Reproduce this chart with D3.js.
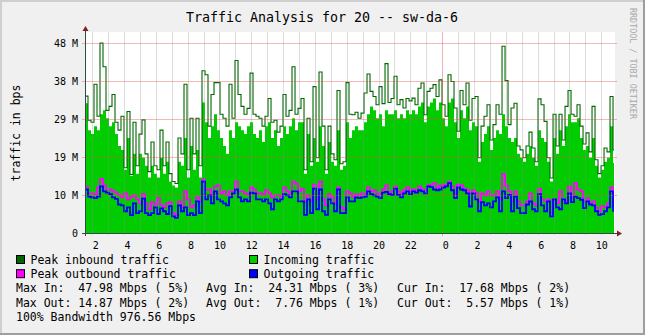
<!DOCTYPE html>
<html>
<head>
<meta charset="utf-8">
<script src="https://cdn.jsdelivr.net/npm/d3@7"></script>
<style>
  body { margin: 0; background: #f0f0f0; }
  svg text { font-family: "DejaVu Sans Mono", monospace; white-space: pre; }
</style>
</head>
<body>
<svg id="chart" width="645" height="335"></svg>
<script>
// Traffic samples in Mbit/s, one value per ~11 minute step
const peakIn = [
  34.6, 28.5, 28, 37.6, 29.5, 47.98, 42, 31, 32, 35,
  28, 26, 29.5, 16.5, 30.7, 14.8, 28, 17, 25, 28.6,
  20, 15.5, 23, 17, 16, 26, 17, 23, 15, 13,
  12.5, 24, 20, 37.6, 16, 29, 20, 29, 17, 41,
  40, 27, 35, 38,
  38, 30, 29, 27, 37.6, 29,
  43.6, 35, 32, 30, 31.5, 40.4, 30, 29.5, 29, 27,
  29.5, 34, 28, 28.5, 25.5, 27, 35, 29.5, 31, 42,
  30, 31.5, 34, 16, 29, 18, 37, 19, 40.7, 27,
  16, 27, 20, 18.5, 36, 17.5, 18, 38, 30,
  29.9, 30.5, 29, 30.3, 35.4, 40.2, 35.8, 34.5, 32.4, 37, 32.7,
  42.8, 33, 34, 39.6, 32.4, 33.7, 31.6, 34, 33.4, 34.1,
  32.4, 36.6, 37.9, 29.9, 35.8, 36.6, 37.5, 34.5, 38.7, 32.4,
  29.5, 40, 38.3, 31.6, 25.7, 36, 32.4, 37.9, 28.5, 34,
  34.5, 19, 27, 29.5,
  32.4, 23.5, 27.4, 32.4, 30, 47.2, 38.5, 27.4, 31.6, 32.8,
  22, 21, 19, 22, 25.5, 21.5, 18, 33.9, 32.4, 28.2,
  19, 13.9, 30, 22, 30, 23.5, 32, 36, 30, 29.5,
  32.4, 27, 22.5, 25.3, 20.5, 32, 18.5, 15, 17, 21.5,
  20.5, 34.5, 21
];
const avgIn = [
  32.8, 26, 25, 27, 26, 30, 31, 29, 27, 28,
  25, 22, 21, 16, 24, 14.5, 20, 15, 20, 19,
  17, 14, 17, 15, 14, 19, 15, 18, 13, 12,
  11.5, 18, 17, 24, 14, 22, 16, 21, 14, 33,
  28, 24, 27, 30,
  26, 24, 22, 20, 26, 24,
  28, 27, 26, 25, 27, 28, 25, 24, 26, 23,
  27, 28, 24, 26, 22, 24, 27, 25, 27, 29,
  26, 28, 28, 15, 25, 17, 24, 18, 27, 22,
  15, 23, 18, 17, 26, 16, 17, 28, 24,
  26, 27, 26, 26, 28, 30, 32, 31, 29, 30, 27,
  31, 30, 30, 31, 29, 30, 29, 31, 30, 31,
  30, 32, 33, 28, 32, 33, 34, 31, 33, 29,
  27, 33, 34, 28, 24, 31, 29, 32, 26, 28,
  27, 18, 23, 25,
  27, 21, 24, 26, 25, 30, 27, 24, 23, 24,
  20, 19, 18, 20, 22, 19, 17, 26, 24, 23,
  18, 13, 24, 20, 26, 22, 27, 30, 28, 28,
  29, 24, 21, 22, 19, 24, 17, 14, 16, 18,
  19, 27, 17.68
];
const peakOut = [
  11.8, 10, 10, 9.8, 11.5, 13.7, 12, 11, 11, 10.5,
  10.2, 9.5, 9.0, 10.0, 8.5, 9.2, 9.5, 8.5, 7.5, 9.8,
  7.5, 6.0, 7.8, 7.2, 8.8, 7.0, 6.5, 7.5, 7.8, 5.0,
  4.5, 8.0, 6.5, 10.5, 8.5, 6.5, 7.0, 9.0, 8.0, 13.5,
  11, 11, 9.5, 11.8,
  12, 10, 10.5, 9.5, 10.5, 10.5,
  13.0, 10.5, 10.5, 10.0, 9.8, 11.5, 11.0, 10.0, 10.0, 9.8,
  10.8, 10.0, 9.0, 9.5, 9.5, 9.2, 11.5, 10.5, 10.0, 13.0,
  12.5, 10.5, 11.2, 8.0, 9.5, 8.0, 12.2, 8.5, 13.0, 8.5,
  7.0, 9.8, 9.0, 7.5, 11.5, 6.5, 6.0, 10.5, 10,
  9.0, 9.8, 9.5, 10.0, 9.8, 11.5, 10.5, 10.8, 10.0, 9.8, 11.0,
  12.0, 10.2, 10.5, 11.8, 10.5, 10.0, 10.8, 11.5, 10.5, 11.0,
  10.5, 11.8, 11.0, 10.8, 12.0, 12.2, 12.6, 11.5, 12.0, 12.0,
  12.2, 13.0, 11.8, 10.0, 12.2, 12.0, 11.2, 10.8, 10.2, 10.8,
  10.2, 8.0, 10.0, 9.5,
  10.5, 9.5, 9.5, 10.5, 8.5, 14.87, 12.0, 10.5, 8.0, 10.5,
  8.0, 7.0, 7.0, 8.0, 10.0, 7.5, 7.0, 11.2, 8.5, 8.0,
  8.5, 5.0, 8.5, 7.5, 10.5, 8.5, 8.0, 11.8, 9.0, 12.6,
  11.0, 10.5, 8.0, 8.8, 7.5, 8.0, 6.5, 5.5, 6.8, 6.5,
  7.5, 11.5, 7.0
];
const avgOut = [
  11.0, 9.2, 9.0, 8.8, 9.2, 11.8, 10.5, 10.2, 9.8, 9.0,
  8.6, 7.2, 7.0, 5.5, 6.5, 4.5, 7.5, 5.0, 5.5, 8.7,
  5.0, 4.5, 5.0, 6.5, 4.8, 6.2, 5.5, 4.8, 6.8, 4.2,
  3.8, 7.0, 5.5, 6.5, 4.5, 5.0, 4.5, 8.0, 5.0, 13.0,
  8.5, 9.5, 7.5, 10.5,
  8.5, 8.0, 7.5, 7.0, 9.0, 10.0,
  11.0, 9.0, 8.0, 8.5, 8.0, 10.2, 10.0, 8.5, 8.5, 8.0,
  8.5, 7.5, 6.0, 8.5, 8.0, 8.5, 9.8, 9.5, 9.0, 10.5,
  10.5, 8.0, 8.0, 4.6, 8.5, 5.0, 11.2, 6.0, 11.0, 5.5,
  4.6, 8.5, 7.5, 5.5, 11.0, 5.0, 5.0, 9.0, 8.0,
  8.0, 9.0, 8.8, 9.0, 9.2, 10.5, 9.8, 9.5, 9.2, 8.8, 10.2,
  10.4, 9.8, 9.6, 11.2, 9.6, 9.0, 10.0, 10.5, 9.8, 10.5,
  10.2, 10.8, 10.5, 10.0, 11.8, 11.6, 11.0, 10.8, 11.0, 11.5,
  11.8, 12.6, 10.8, 8.8, 11.5, 11.0, 10.8, 10.0, 6.7, 10.0,
  8.5, 5.5, 7.8, 7.0,
  7.5, 6.5, 8.0, 9.0, 5.5, 10.5, 8.8, 9.6, 5.5, 9.2,
  6.3, 5.0, 5.0, 7.2, 8.0, 6.0, 5.5, 9.8, 7.0, 5.5,
  8.0, 4.2, 8.5, 6.5, 6.0, 8.5, 7.5, 10.0, 7.8, 9.2,
  8.8, 8.4, 6.3, 8.0, 7.2, 7.0, 5.5, 4.6, 4.8, 5.5,
  6.5, 10.5, 5.57
];

// Time axis: hours counted from midnight of the first day
const startHour = 1.55;
const endHour = 34.86;
const stepHours = 0.18856;
const hourGrid = d3.range(2, 35, 1);
const dayGrid = [24];
const xLabelHours = d3.range(2, 35, 2);

// Value axis (Mbit/s)
const yMax = 50.8;
const yTicks = [0, 9.6, 19.2, 28.8, 38.4, 48];
const yTickLabels = ["0", "10 M", "19 M", "29 M", "38 M", "48 M"];

const titleText = "Traffic Analysis for 20 -- sw-da-6";
const yAxisTitle = "traffic in bps";
const watermark = "RRDTOOL / TOBI OETIKER";

const legendItems = [
  { label: "Peak inbound traffic", color: "#006600", col: 0, row: 0 },
  { label: "Incoming traffic", color: "#00CC00", col: 1, row: 0 },
  { label: "Peak outbound traffic", color: "#FF00FF", col: 0, row: 1 },
  { label: "Outgoing traffic", color: "#0000FF", col: 1, row: 1 }
];
const statRows = [
  ["Max In:  47.98 Mbps ( 5%)", "Avg In:  24.31 Mbps ( 3%)", "Cur In:  17.68 Mbps ( 2%)"],
  ["Max Out: 14.87 Mbps ( 2%)", "Avg Out:  7.76 Mbps ( 1%)", "Cur Out:  5.57 Mbps ( 1%)"]
];
const bandwidthLine = "100% Bandwidth 976.56 Mbps";

// ---- layout ----
const W = 645, H = 335;
const plot = { left: 85, right: 615, top: 32, bottom: 233 };

const svg = d3.select("#chart");

// background with bevelled frame
svg.append("rect").attr("width", W).attr("height", H).attr("fill", "#f0f0f0");
svg.append("rect").attr("x", 0).attr("y", 0).attr("width", W).attr("height", 2).attr("fill", "#cfcfcf");
svg.append("rect").attr("x", 0).attr("y", 0).attr("width", 2).attr("height", H).attr("fill", "#cfcfcf");
svg.append("rect").attr("x", 0).attr("y", H - 2).attr("width", W).attr("height", 2).attr("fill", "#9e9e9e");
svg.append("rect").attr("x", W - 2).attr("y", 0).attr("width", 2).attr("height", H).attr("fill", "#9e9e9e");

const x = d3.scaleLinear().domain([startHour, endHour]).range([plot.left, plot.right]);
const y = d3.scaleLinear().domain([0, yMax]).range([plot.bottom, plot.top]);

// canvas
svg.append("rect")
  .attr("x", plot.left).attr("y", plot.top)
  .attr("width", plot.right - plot.left).attr("height", plot.bottom - plot.top)
  .attr("fill", "#ffffff");

svg.append("clipPath").attr("id", "plotClip")
  .append("rect")
  .attr("x", plot.left + 1).attr("y", plot.top)
  .attr("width", plot.right - plot.left - 2).attr("height", plot.bottom - plot.top);

const g = svg.append("g").attr("clip-path", "url(#plotClip)");

function stepPoints(values) {
  const pts = values.map((v, i) => [startHour + i * stepHours, v]);
  pts.push([startHour + values.length * stepHours, values[values.length - 1]]);
  return pts;
}

const area = d3.area()
  .x(d => x(d[0])).y0(y(0)).y1(d => y(d[1]))
  .curve(d3.curveStepAfter);
const line = d3.line()
  .x(d => x(d[0])).y(d => y(d[1]))
  .curve(d3.curveStepAfter);

g.append("path").datum(stepPoints(avgIn))
  .attr("d", area).attr("fill", "#00CC00");
g.append("path").datum(stepPoints(peakIn))
  .attr("d", line).attr("fill", "none").attr("stroke", "#006600").attr("stroke-width", 1.1);
g.append("path").datum(stepPoints(peakOut))
  .attr("d", line).attr("fill", "none").attr("stroke", "#FF00FF").attr("stroke-width", 1.8);
g.append("path").datum(stepPoints(avgOut))
  .attr("d", line).attr("fill", "none").attr("stroke", "#0000FF").attr("stroke-width", 1.8);

// grid drawn over the data, semi-transparent
const grid = svg.append("g");
grid.selectAll(".vminor").data(hourGrid.filter(h => !dayGrid.includes(h))).join("line")
  .attr("x1", d => Math.round(x(d)) + 0.5).attr("x2", d => Math.round(x(d)) + 0.5)
  .attr("y1", plot.top).attr("y2", plot.bottom + 2)
  .attr("stroke", "rgba(143,143,143,0.3)").attr("stroke-width", 1);
grid.selectAll(".vmajor").data(dayGrid).join("line")
  .attr("x1", d => Math.round(x(d)) + 0.5).attr("x2", d => Math.round(x(d)) + 0.5)
  .attr("y1", plot.top).attr("y2", plot.bottom + 3)
  .attr("stroke", "rgba(222,81,81,0.45)").attr("stroke-width", 1);
grid.selectAll(".hmajor").data(yTicks.filter(v => v > 0)).join("line")
  .attr("x1", plot.left - 3).attr("x2", plot.right + 2)
  .attr("y1", d => Math.round(y(d)) + 0.5).attr("y2", d => Math.round(y(d)) + 0.5)
  .attr("stroke", "rgba(222,81,81,0.4)").attr("stroke-width", 1);

// axes
const axisColor = "#2C4D43";
const arrowColor = "#7F1F1F";
svg.append("line")
  .attr("x1", plot.left - 3).attr("x2", plot.right + 3)
  .attr("y1", plot.bottom + 0.5).attr("y2", plot.bottom + 0.5)
  .attr("stroke", axisColor).attr("stroke-width", 1);
svg.append("line")
  .attr("x1", plot.left + 0.5).attr("x2", plot.left + 0.5)
  .attr("y1", plot.top - 2).attr("y2", plot.bottom + 3)
  .attr("stroke", axisColor).attr("stroke-width", 1);
svg.append("path")
  .attr("d", `M${plot.right + 2},${plot.bottom - 2.5} L${plot.right + 7},${plot.bottom + 0.5} L${plot.right + 2},${plot.bottom + 3.5} Z`)
  .attr("fill", arrowColor);
svg.append("path")
  .attr("d", `M${plot.left - 2.5},${plot.top - 1} L${plot.left + 0.5},${plot.top - 6} L${plot.left + 3.5},${plot.top - 1} Z`)
  .attr("fill", arrowColor);

// y tick labels
svg.append("g").selectAll("text").data(yTicks).join("text")
  .attr("x", plot.left - 7)
  .attr("y", d => y(d) + 3.5)
  .attr("text-anchor", "end")
  .attr("font-size", 10)
  .attr("fill", "#000")
  .text((d, i) => yTickLabels[i]);

// x tick labels (space-padded hours)
svg.append("g").selectAll("text").data(xLabelHours).join("text")
  .attr("x", d => x(d) + 0.5)
  .attr("y", plot.bottom + 16)
  .attr("text-anchor", "middle")
  .attr("font-size", 10)
  .attr("fill", "#000")
  .text(d => String(d % 24).padStart(2, " "));

// title
svg.append("text")
  .attr("x", 322).attr("y", 22)
  .attr("text-anchor", "middle")
  .attr("font-size", 13.3)
  .attr("fill", "#000")
  .text(titleText);

// vertical axis title
svg.append("text")
  .attr("transform", "translate(20,133) rotate(-90)")
  .attr("text-anchor", "middle")
  .attr("font-size", 11.5)
  .attr("fill", "#000")
  .text(yAxisTitle);

// watermark on the right edge
svg.append("text")
  .attr("transform", "translate(630,8) rotate(90)")
  .attr("text-anchor", "start")
  .attr("font-size", 8.4)
  .attr("fill", "#a8a8a8")
  .text(watermark);

// legend
const legendTop = 264, rowStep = 14.2;
const colX = [16, 249];
const statColX = [16, 206, 397];
const leg = svg.append("g");
legendItems.forEach(item => {
  const bx = colX[item.col], by = legendTop + item.row * rowStep;
  leg.append("rect")
    .attr("x", bx + 0.5).attr("y", by - 8.5)
    .attr("width", 8).attr("height", 8)
    .attr("fill", item.color).attr("stroke", "#000").attr("stroke-width", 1);
  leg.append("text")
    .attr("x", bx + 14.5).attr("y", by)
    .attr("font-size", 11.5).attr("fill", "#000")
    .text(item.label);
});
statRows.forEach((row, r) => {
  row.forEach((cell, c) => {
    leg.append("text")
      .attr("x", statColX[c]).attr("y", legendTop + (r + 2) * rowStep)
      .attr("font-size", 11.5).attr("fill", "#000")
      .text(cell);
  });
});
leg.append("text")
  .attr("x", 16).attr("y", legendTop + 4 * rowStep)
  .attr("font-size", 11.5).attr("fill", "#000")
  .text(bandwidthLine);
</script>
</body>
</html>
